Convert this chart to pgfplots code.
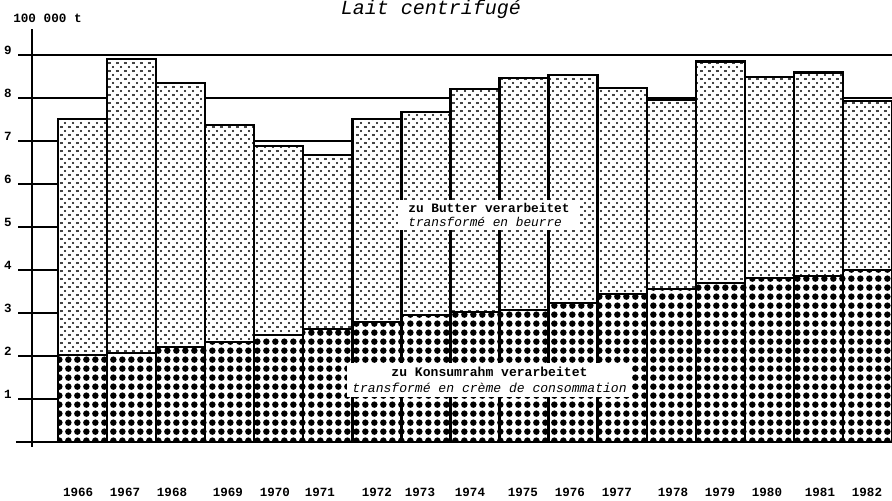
\documentclass[border=0pt]{standalone}
\usepackage{fontspec}
\setmainfont{Liberation Mono}
\usepackage{pgfplots}
\pgfplotsset{compat=1.18}
\usepackage{pgfplotstable}
\usetikzlibrary{patterns.meta}

\tikzdeclarepattern{
  name=coarsedots, type=colored,
  bounding box={(0pt,0pt) and (7pt,7pt)},
  tile size={(7pt,7pt)},
  code={\fill[black] (3.5pt,3.5pt) circle (2.6pt);}
}
\tikzdeclarepattern{
  name=finedots, type=colored,
  bounding box={(0pt,0pt) and (6pt,6pt)},
  tile size={(6pt,6pt)},
  code={\fill[black] (1.5pt,1.5pt) circle (0.9pt); \fill[black] (4.5pt,4.5pt) circle (0.9pt);}
}

% x = year index (0 = 1966); rahm = zu Konsumrahm; butter = zu Butter (stacked on top)
\pgfplotstableread{
x  rahm  butter
0  2.02  5.49
1  2.07  6.84
2  2.21  6.14
3  2.33  5.04
4  2.49  4.39
5  2.63  4.04
6  2.79  4.72
7  2.95  4.72
8  3.02  5.19
9  3.07  5.40
10 3.23  5.30
11 3.44  4.79
12 3.56  4.39
13 3.70  5.15
14 3.81  4.68
15 3.86  4.73
16 4.00  3.93
}\milk

\begin{document}
\begin{tikzpicture}
\begin{axis}[
  x=36.8pt, y=32.25pt,
  xmin=-1.315, xmax=16.5, ymin=0, ymax=9.58,
  axis line style={draw=none},
  major tick length=0pt,
  ytick={1,...,9},
  ymajorgrids, grid style={black, line width=1.3pt},
  xtick={-0.09,0.866,1.824,2.965,3.923,4.840,6.002,6.879,7.898,8.978,9.936,10.894,12.036,12.994,13.952,15.032,15.99},
  xticklabels={1966,1967,1968,1969,1970,1971,1972,1973,1974,1975,1976,1977,1978,1979,1980,1981,1982},
  xticklabel style={font=\fontsize{9.4}{10}\selectfont\bfseries, anchor=north, inner sep=0pt, yshift=-34.5pt},
  yticklabel style={font=\fontsize{9.4}{10}\selectfont\bfseries, anchor=east, inner sep=0pt, xshift=-4.5pt, yshift=3.5pt},
  /pgf/number format/assume math mode=true,
  ybar stacked, bar width=1,
  clip=false,
]
\addplot[draw=black, line width=1.8pt, preaction={fill=white}, pattern=coarsedots] table[x=x, y=rahm]{\milk};
\addplot[draw=black, line width=1.8pt, preaction={fill=white}, pattern=finedots] table[x=x, y=butter]{\milk};

\coordinate (B0) at (axis cs:-1.356,0);
\coordinate (B1) at (axis cs:16.5,0);
\coordinate (V0) at (axis cs:-1.03,9.6);
\coordinate (V1) at (axis cs:-1.03,-0.12);
\coordinate (BOX1) at (axis cs:8.285,5.28);
\coordinate (BOX2) at (axis cs:8.295,1.44);
\coordinate (TTL) at (axis cs:7.103,9.93);
\coordinate (UNIT) at (axis cs:-1.417,9.767);
\coordinate (BL) at (axis cs:-1.682,-1.372);
\coordinate (TR) at (axis cs:16.5,10.279);
\end{axis}

\draw[line width=1.8pt] (B0) -- (B1);
\draw[line width=1.8pt] (V0) -- (V1);

\node[fill=white, inner sep=0pt, minimum width=136.5pt, minimum height=22.5pt, align=left,
      font=\fontsize{9.6}{10.5}\selectfont] at (BOX1)
      {\textbf{zu Butter verarbeitet}\\\textit{transformé en beurre}};
\node[fill=white, inner sep=0pt, minimum width=213.75pt, minimum height=25.5pt, align=center,
      font=\fontsize{9.8}{11.5}\selectfont] at (BOX2)
      {\textbf{zu Konsumrahm verarbeitet}\\\textit{transformé en crème de consommation}};

\node[anchor=base, inner sep=0pt, font=\fontsize{15}{15}\selectfont\itshape] at (TTL) {Lait centrifugé};
\node[anchor=base west, inner sep=0pt, font=\fontsize{9.5}{10}\selectfont\bfseries] at (UNIT) {100 000 t};

\pgfresetboundingbox
\useasboundingbox (BL) rectangle (TR);
\end{tikzpicture}
\end{document}
